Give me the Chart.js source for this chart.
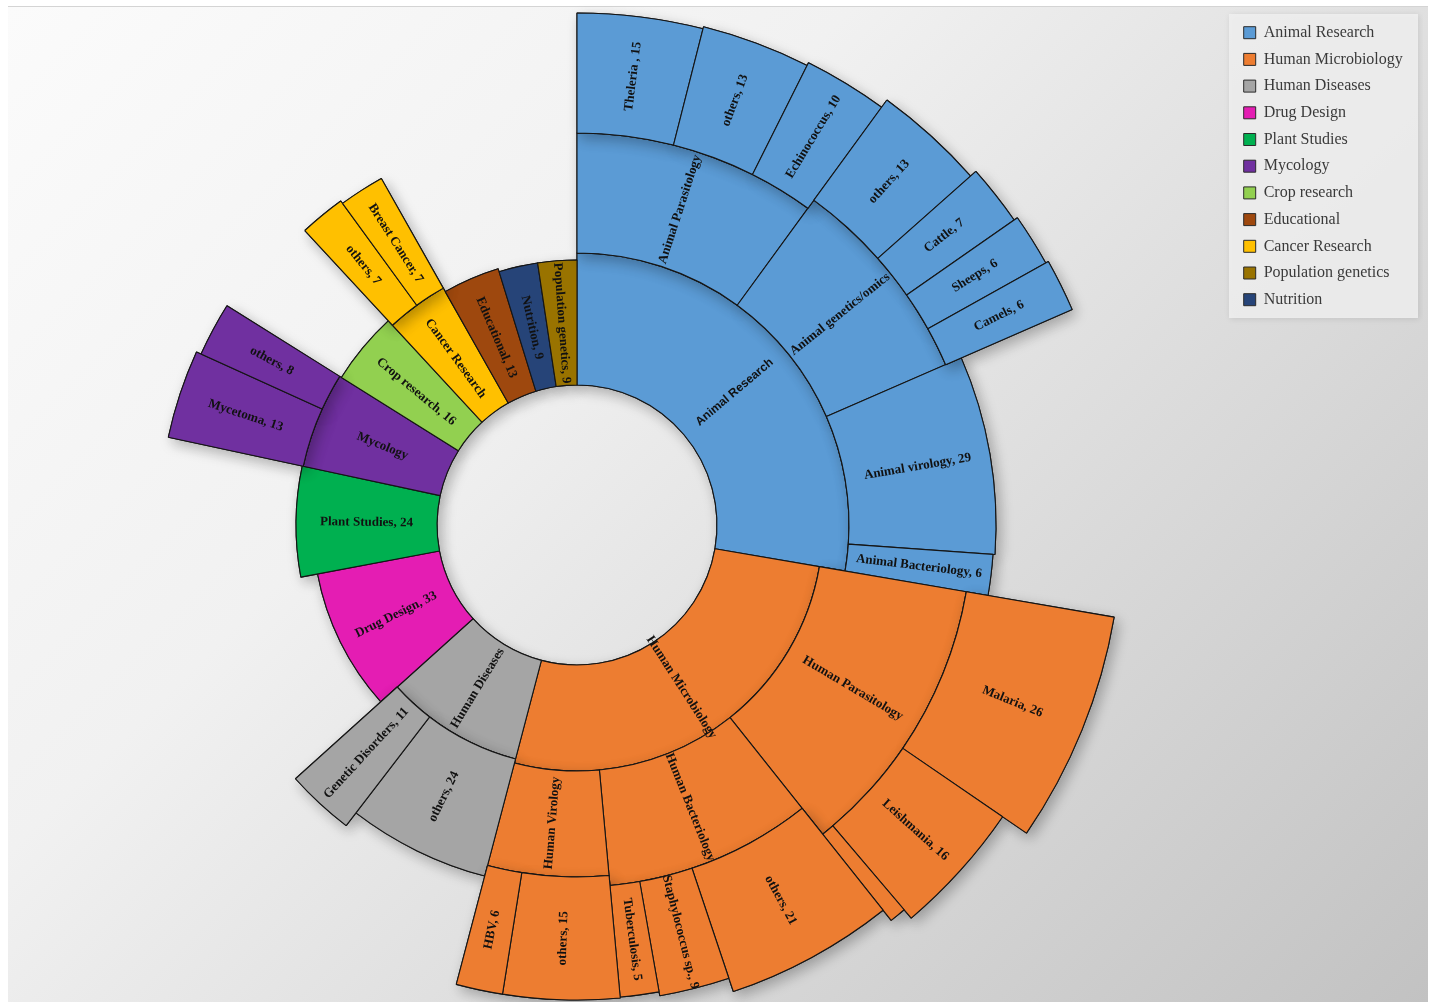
<!DOCTYPE html>
<html>
<head>
<meta charset="utf-8">
<script src="https://cdn.jsdelivr.net/npm/chart.js@4.4.1/dist/chart.umd.min.js"></script>
<style>
html,body{margin:0;padding:0;width:1430px;height:1002px;overflow:hidden;background:#ffffff;}
#panel{position:absolute;left:8px;top:6px;width:1420px;height:996px;border-top:1px solid #d4d4d4;
  background:linear-gradient(135deg,#fbfbfb 0%,#f1f1f1 35%,#d9d9d9 68%,#c2c2c2 100%);}
#wrap{position:absolute;left:-79px;top:0;width:1502px;height:1036px;}
</style>
</head>
<body>
<div id="panel"></div>
<div id="wrap"><canvas id="c"></canvas></div>
<script>
// ---------------- DATA ----------------
// Level 1 (inner ring), clockwise from 12 o'clock; null = sum of its sub-categories
const categories = ['Animal Research', 'Human Microbiology', 'Human Diseases', 'Drug Design', 'Plant Studies',
  'Mycology', 'Crop research', 'Cancer Research', 'Educational', 'Nutrition', 'Population genetics'];
const categoryValues = [null, null, null, 33, 24, null, 16, null, 13, 9, 9];

// Level 2
const subcategories = ['Animal Parasitology', 'Animal genetics/omics', 'Animal virology', 'Animal Bacteriology',
  'Human Parasitology', 'Human Bacteriology', 'Human Virology',
  'others', 'Genetic Disorders', 'Mycetoma', 'others', 'others', 'Breast Cancer'];
const subcategoryParents = ['Animal Research', 'Animal Research', 'Animal Research', 'Animal Research',
  'Human Microbiology', 'Human Microbiology', 'Human Microbiology',
  'Human Diseases', 'Human Diseases', 'Mycology', 'Mycology', 'Cancer Research', 'Cancer Research'];
const subcategoryValues = [null, null, 29, 6, null, null, null, 24, 11, 13, 8, 7, 7];

// Level 3
const topics = ['Theleria ', 'others', 'Echinococcus', 'others', 'Cattle', 'Sheeps', 'Camels',
  'Malaria', 'Leishmania', '', 'others', 'Staphylococcus sp.', 'Tuberculosis', 'others', 'HBV'];
const topicParents = ['Animal Parasitology', 'Animal Parasitology', 'Animal Parasitology',
  'Animal genetics/omics', 'Animal genetics/omics', 'Animal genetics/omics', 'Animal genetics/omics',
  'Human Parasitology', 'Human Parasitology', 'Human Parasitology',
  'Human Bacteriology', 'Human Bacteriology', 'Human Bacteriology', 'Human Virology', 'Human Virology'];
const topicValues = [15, 13, 10, 13, 7, 6, 6, 26, 16, 2, 21, 9, 5, 15, 6];

// Legend order
const legendLabels = ['Animal Research', 'Human Microbiology', 'Human Diseases', 'Drug Design', 'Plant Studies',
  'Mycology', 'Crop research', 'Educational', 'Cancer Research', 'Population genetics', 'Nutrition'];

// ---------------- STYLE ----------------
const palette = {
  'Animal Research': '#5b9bd5', 'Human Microbiology': '#ed7d31', 'Human Diseases': '#a5a5a5',
  'Drug Design': '#e41db3', 'Plant Studies': '#00b050', 'Mycology': '#7030a0', 'Crop research': '#92d050',
  'Educational': '#9e480e', 'Cancer Research': '#ffc000', 'Population genetics': '#997300', 'Nutrition': '#264478'
};
const HOLE_RADIUS = 140;
const outerRadius = {
  'Animal Research': 272, 'Human Microbiology': 246, 'Human Diseases': 242, 'Drug Design': 264,
  'Plant Studies': 281, 'Mycology': 280, 'Crop research': 278, 'Cancer Research': 272,
  'Educational': 268, 'Nutrition': 265, 'Population genetics': 265,
  'Animal Research > Animal Parasitology': 392, 'Animal Research > Animal genetics/omics': 402,
  'Animal Research > Animal virology': 419, 'Animal Research > Animal Bacteriology': 417,
  'Human Microbiology > Human Parasitology': 395, 'Human Microbiology > Human Bacteriology': 362,
  'Human Microbiology > Human Virology': 352,
  'Human Diseases > others': 363, 'Human Diseases > Genetic Disorders': 379,
  'Mycology > Mycetoma': 418, 'Mycology > others': 413,
  'Cancer Research > others': 401, 'Cancer Research > Breast Cancer': 398,
  'Animal Parasitology > Theleria ': 512, 'Animal Parasitology > others': 514, 'Animal Parasitology > Echinococcus': 517,
  'Animal genetics/omics > others': 526, 'Animal genetics/omics > Cattle': 533,
  'Animal genetics/omics > Sheeps': 537, 'Animal genetics/omics > Camels': 540,
  'Human Parasitology > Malaria': 545, 'Human Parasitology > Leishmania': 516, 'Human Parasitology > ': 505,
  'Human Bacteriology > others': 492, 'Human Bacteriology > Staphylococcus sp.': 478,
  'Human Bacteriology > Tuberculosis': 474,
  'Human Virology > others': 475, 'Human Virology > HBV': 475
};
const labelFont = 'bold 13px "Liberation Serif", "Times New Roman", serif';
const labelFontOverride = { 'Animal Research': 'bold 12px "Liberation Sans", Arial, sans-serif' };

// ---------------- BUILD RINGS ----------------
const sum = arr => arr.reduce((a, n) => a + n.value, 0);
const l3 = topics.map((t, i) => ({ label: t, parent: topicParents[i], value: topicValues[i], children: [] }));
const l2 = subcategories.map((s, i) => {
  const children = l3.filter(n => n.parent === s);
  return { label: s, parent: subcategoryParents[i], value: subcategoryValues[i] ?? sum(children), children };
});
const l1 = categories.map((c, i) => {
  const children = l2.filter(n => n.parent === c);
  return { label: c, parent: null, value: categoryValues[i] ?? sum(children), children };
});
l1.forEach(n => {
  n.root = n.label; n.key = n.label; n.r0 = HOLE_RADIUS; n.r1 = outerRadius[n.key];
  n.children.forEach(c => {
    c.root = n.label; c.key = n.label + ' > ' + c.label; c.r0 = n.r1; c.r1 = outerRadius[c.key];
    c.children.forEach(g => {
      g.root = n.label; g.key = c.label + ' > ' + g.label; g.r0 = c.r1; g.r1 = outerRadius[g.key];
    });
  });
});
const ring1 = l1;
const ring2 = [];
l1.forEach(n => n.children.length ? ring2.push(...n.children) : ring2.push({ gap: true, value: n.value }));
const ring3 = [];
ring2.forEach(n => (!n.gap && n.children.length) ? ring3.push(...n.children) : ring3.push({ gap: true, value: n.value }));
const ringNodes = [ring3, ring2, ring1];

function makeDataset(ring) {
  return {
    data: ring.map(n => n.value),
    backgroundColor: ring.map(n => n.gap ? 'rgba(0,0,0,0)' : palette[n.root]),
    borderColor: ring.map(n => n.gap ? 'rgba(0,0,0,0)' : '#151515'),
    borderWidth: ring.map(n => n.gap ? 0 : 1.1),
    hoverOffset: 0
  };
}

// ---------------- PLUGINS ----------------
const radiiPlugin = {
  id: 'sunburstRadii',
  afterDatasetUpdate(chart, args) {
    const nodes = ringNodes[args.index];
    args.meta.data.forEach((el, i) => {
      const n = nodes[i];
      if (n.gap) { el.innerRadius = 0; el.outerRadius = 0; return; }
      el.innerRadius = n.r0; el.outerRadius = n.r1;
    });
  },
  beforeDraw(chart) {
    const lg = chart.legend; const ctx = chart.ctx;
    if (!lg) return;
    ctx.save();
    ctx.shadowColor = 'rgba(0,0,0,0.12)'; ctx.shadowBlur = 6; ctx.shadowOffsetX = 1; ctx.shadowOffsetY = 1;
    ctx.fillStyle = 'rgba(240,240,240,0.85)';
    ctx.fillRect(lg.left - 4, lg.top, 189, 304);
    ctx.restore();
  },
  // soft shadow of each ring, cast on the background and on the ring beneath it
  beforeDatasetDraw(chart, args) {
    const ctx = chart.ctx;
    const di = args.index;
    ctx.save();
    ctx.shadowColor = 'rgba(0,0,0,0.28)'; ctx.shadowBlur = 14; ctx.shadowOffsetX = 4; ctx.shadowOffsetY = 5;
    args.meta.data.forEach((el, i) => { if (!ringNodes[di][i].gap) el.draw(ctx); });
    ctx.restore();
  },
  afterDatasetsDraw(chart) {
    const ctx = chart.ctx;
    chart.data.datasets.forEach((ds, di) => {
      chart.getDatasetMeta(di).data.forEach((el, i) => {
        const n = ringNodes[di][i];
        if (n.gap || !n.label) return;
        const text = n.children.length ? n.label : n.label + ', ' + n.value;
        const p = el.getProps(['x', 'y', 'startAngle', 'endAngle', 'innerRadius', 'outerRadius'], true);
        const a = (p.startAngle + p.endAngle) / 2;
        const r = (p.innerRadius + p.outerRadius) / 2;
        const rot = Math.cos(a) >= 0 ? a : a + Math.PI;
        ctx.save();
        ctx.translate(p.x + Math.cos(a) * r, p.y + Math.sin(a) * r);
        ctx.rotate(rot);
        ctx.font = labelFontOverride[n.key] || labelFont;
        ctx.fillStyle = '#111111';
        ctx.textAlign = 'center';
        ctx.textBaseline = 'middle';
        ctx.fillText(text, 0, 0);
        ctx.restore();
      });
    });
  }
};

// ---------------- CHART ----------------
new Chart(document.getElementById('c'), {
  type: 'doughnut',
  data: {
    labels: categories,
    datasets: [makeDataset(ring3), makeDataset(ring2), makeDataset(ring1)]
  },
  options: {
    responsive: true,
    maintainAspectRatio: false,
    animation: false,
    events: [],
    layout: { padding: { left: 0, right: 20, top: 14, bottom: 0 } },
    plugins: {
      tooltip: { enabled: false },
      legend: {
        position: 'right',
        align: 'start',
        maxWidth: 170,
        onClick: () => {},
        labels: {
          font: { family: '"Liberation Serif", "Times New Roman", serif', size: 16 },
          color: '#3a3a3a',
          boxWidth: 12,
          boxHeight: 12,
          padding: 10.7,
          generateLabels: () => legendLabels.map((name, i) => ({
            text: name, fillStyle: palette[name], strokeStyle: '#2a2a2a', lineWidth: 1,
            hidden: false, index: i, fontColor: '#3a3a3a'
          }))
        }
      }
    }
  },
  plugins: [radiiPlugin]
});
</script>
</body>
</html>
